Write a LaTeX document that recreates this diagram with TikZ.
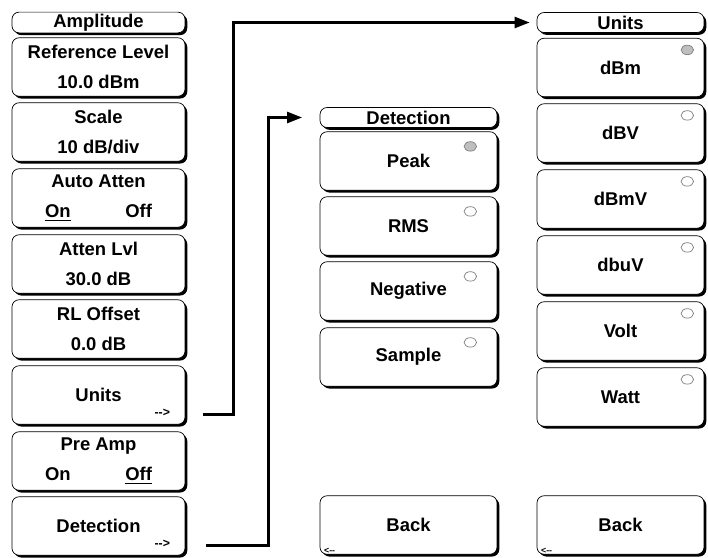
\documentclass[tikz,border=0pt]{standalone}
\usepackage{fontspec}
\setmainfont{Liberation Sans}
\usetikzlibrary{shadows,arrows.meta,shapes.geometric}

\tikzset{
	softkey/.style={draw, thin, rounded corners=4pt, fill=white, minimum width=3.46cm, minimum height=1.17cm, inner sep=1pt, align=center, font=\bfseries\fontsize{10.5}{17}\selectfont, drop shadow={shadow xshift=1.3pt, shadow yshift=-1.3pt, fill=black, opacity=1}},
	titlekey/.style={softkey, minimum height=0.4cm, font=\bfseries\fontsize{10.5}{12}\selectfont},
	radio/.style={draw=gray, ellipse, fill=white, minimum width=0.25cm, minimum height=0.19cm, inner sep=0pt},
	more/.style={font=\bfseries\scriptsize, inner sep=0pt},
	link/.style={line width=1.4pt, -{Triangle[length=0.3cm,width=0.22cm]}}
}

\begin{document}
\begin{tikzpicture}[x=0.02cm, y=-0.02cm]
		\useasboundingbox (0,0) rectangle (708,558);
		% Amplitude menu
		\begin{scope}[softkey/.append style={minimum width=3.46cm}]
		\node[titlekey] (ampT) at (98.5,22.5) {Amplitude};
		\node[softkey] (refK) at (98.5,67) {Reference Level\\10.0 dBm};
		\node[softkey] (scaleK) at (98.5,132) {Scale\\10 dB/div};
		\node[softkey] (attK) at (98.5,198) {Auto Atten\\\makebox[2.14cm]{\underline{On}\hfill Off}};
		\node[softkey] (lvlK) at (98.5,264) {Atten Lvl\\30.0 dB};
		\node[softkey] (offK) at (98.5,329) {RL Offset\\0.0 dB};
		\node[softkey] (unitsK) at (98.5,395) {Units};
		\node[softkey] (preK) at (98.5,461) {Pre Amp\\\makebox[2.14cm]{On\hfill\underline{Off}}};
		\node[softkey] (detK) at (98.5,526) {Detection};
		\end{scope}
		\node[more] (unitsM) at ([shift={(-23,-12)}]unitsK.south east) {-{}->};
		\node[more] (detM) at ([shift={(-23,-12)}]detK.south east) {-{}->};
		% Detection menu
		\begin{scope}[softkey/.append style={minimum width=3.54cm}]
		\node[titlekey] (detT) at (408.5,117.5) {Detection};
		\node[softkey] (peakK) at (408.5,161) {Peak};
		\node[softkey] (rmsK) at (408.5,226) {RMS};
		\node[softkey] (negK) at (408.5,291) {Negative};
		\node[softkey] (sampK) at (408.5,357) {Sample};
		\node[softkey] (backA) at (408.5,525) {Back};
		\end{scope}
		\node[radio, fill=lightgray] (r1) at ([shift={(-27,15)}]peakK.north east) {};
		\node[radio] (r2) at ([shift={(-27,15)}]rmsK.north east) {};
		\node[radio] (r3) at ([shift={(-27,15)}]negK.north east) {};
		\node[radio] (r4) at ([shift={(-27,15)}]sampK.north east) {};
		\node[more, font=\bfseries\tiny] (backAM) at ([shift={(10,-4)}]backA.south west) {<{-}{-}};
		% Units menu
		\begin{scope}[softkey/.append style={minimum width=3.34cm}]
		\node[titlekey] (unitsT) at (620.5,22.5) {Units};
		\node[softkey] (dbmK) at (620.5,67.5) {dBm};
		\node[softkey] (dbvK) at (620.5,133) {dBV};
		\node[softkey] (dbmvK) at (620.5,199) {dBmV};
		\node[softkey] (dbuvK) at (620.5,265) {dbuV};
		\node[softkey] (voltK) at (620.5,331) {Volt};
		\node[softkey] (wattK) at (620.5,397) {Watt};
		\node[softkey] (backB) at (620.5,525) {Back};
		\end{scope}
		\node[radio, fill=lightgray] (u1) at ([shift={(-17,12)}]dbmK.north east) {};
		\node[radio] (u2) at ([shift={(-17,12)}]dbvK.north east) {};
		\node[radio] (u3) at ([shift={(-17,12)}]dbmvK.north east) {};
		\node[radio] (u4) at ([shift={(-17,12)}]dbuvK.north east) {};
		\node[radio] (u5) at ([shift={(-17,12)}]voltK.north east) {};
		\node[radio] (u6) at ([shift={(-17,12)}]wattK.north east) {};
		\node[more, font=\bfseries\tiny] (backBM) at ([shift={(10,-4)}]backB.south west) {<{-}{-}};
		% links
		\draw[link, shorten >=4] (unitsM.east) ++(33,2) -- ++(30,0) |- (unitsT.west);
		\draw[link, shorten >=10] (detM.east) ++(36,2) -- ++(62,0) |- (detT.west);
\end{tikzpicture}
\end{document}
